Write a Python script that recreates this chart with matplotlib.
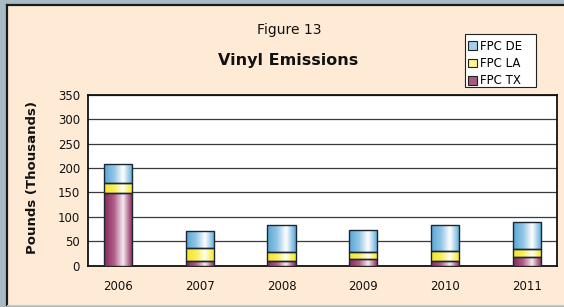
import numpy as np
import matplotlib
matplotlib.use("Agg")
import matplotlib.pyplot as plt
from matplotlib.colors import LinearSegmentedColormap
from matplotlib.patches import Rectangle, Patch
from matplotlib.lines import Line2D

years = ["2006", "2007", "2008", "2009", "2010", "2011"]
fpc_tx = [149, 10, 10, 13, 10, 18]
fpc_la = [20, 26, 18, 16, 20, 17]
fpc_de = [39, 36, 55, 45, 54, 55]
y_ticks = [0, 50, 100, 150, 200, 250, 300, 350]

W, H = 564, 307
fig = plt.figure(figsize=(W / 100, H / 100), dpi=100)
fig.patch.set_facecolor("#a8bac3")

# beige panel
fig.patches.append(Rectangle((7 / W, 1 - 305 / H), 1 - 7 / W, (305 - 5) / H,
                             transform=fig.transFigure, facecolor="#ffebd5",
                             edgecolor="none", zorder=-5))
fig.lines.append(Line2D([7 / W, 7 / W], [1 - 305 / H, 1 - 5 / H], transform=fig.transFigure,
                        color="#1a1a1a", lw=1.6, zorder=-4))
fig.lines.append(Line2D([7 / W, 1], [1 - 5 / H, 1 - 5 / H], transform=fig.transFigure,
                        color="#1a1a1a", lw=1.6, zorder=-4))
fig.lines.append(Line2D([7 / W, 1], [1 - 305 / H, 1 - 305 / H], transform=fig.transFigure,
                        color="#c8c8c8", lw=0.8, zorder=-4))

left, right = 88.3 / W, 557.3 / W
bottom, top = 1 - 265.7 / H, 1 - 94.7 / H
ax = fig.add_axes([left, bottom, right - left, top - bottom])
ax.set_facecolor("white")

x = np.arange(len(years))
width = 0.343

series = [
    ("FPC TX", fpc_tx, ["#85285a", "#b05e88", "#f6eaf0", "#b05e88", "#85285a"], "#a85a80"),
    ("FPC LA", fpc_la, ["#f2e52a", "#f8ef58", "#fffff0", "#f8ef58", "#f2e52a"], "#faf490"),
    ("FPC DE", fpc_de, ["#56a6d6", "#92c6e6", "#ffffff", "#92c6e6", "#56a6d6"], "#a0d0ec"),
]

grad = np.linspace(0, 1, 256).reshape(1, -1)
base = np.zeros(len(years))
for name, vals, cols, solid in series:
    cmap = LinearSegmentedColormap.from_list(name, list(zip([0, 0.35, 0.66, 0.88, 1.0], cols)))
    bars = ax.bar(x, vals, width, bottom=base, facecolor="none", edgecolor="#1c2530",
                  linewidth=1.0, zorder=4)
    for b in bars:
        bx, by = b.get_x(), b.get_y()
        im = ax.imshow(grad, extent=[bx, bx + b.get_width(), by, by + b.get_height()],
                       aspect="auto", cmap=cmap, zorder=3, interpolation="bilinear")
        im.set_clip_path(b)
    base = base + np.array(vals)

ax.set_xlim(-0.364, 5.375)
ax.set_ylim(0, 350)
ax.set_yticks(y_ticks)
ax.set_xticks(x)
ax.set_xticklabels(years)
ax.yaxis.grid(True, color="#3a3a3a", linewidth=0.9)
ax.set_axisbelow(True)
ax.tick_params(axis="both", length=0, labelsize=8.5, colors="#111111")
ax.tick_params(axis="x", pad=10)
ax.tick_params(axis="y", pad=6)
for s in ax.spines.values():
    s.set_color("#111111")
    s.set_linewidth(1.3)

fig.text(33 / W, 1 - 178 / H, "Pounds (Thousands)", rotation=90, ha="center", va="center",
         fontsize=9.5, fontweight="bold", color="#111111")
fig.text(289 / W, 1 - 30 / H, "Figure 13", ha="center", va="center", fontsize=10,
         color="#111111")
fig.text(288 / W, 1 - 60 / H, "Vinyl Emissions", ha="center", va="center", fontsize=11.5,
         fontweight="bold", color="#111111")

# legend frame drawn separately
fig.patches.append(Rectangle((465 / W, 1 - 87 / H), (536 - 465) / W, (87 - 34) / H,
                             transform=fig.transFigure, facecolor="white",
                             edgecolor="#222222", linewidth=0.8, zorder=2))
handles = [Patch(facecolor=s[3], edgecolor="#222222", linewidth=0.8, label=s[0]) for s in series[::-1]]
leg = fig.legend(handles=handles, loc="upper left", bbox_to_anchor=(468 / W, 1 - 39.5 / H),
                 borderaxespad=0, fontsize=8.5, frameon=False,
                 handlelength=0.75, handleheight=0.75, handletextpad=0.25,
                 labelspacing=0.38, borderpad=0)
leg.set_zorder(3)

fig.savefig("out.png", dpi=100, facecolor=fig.get_facecolor())
